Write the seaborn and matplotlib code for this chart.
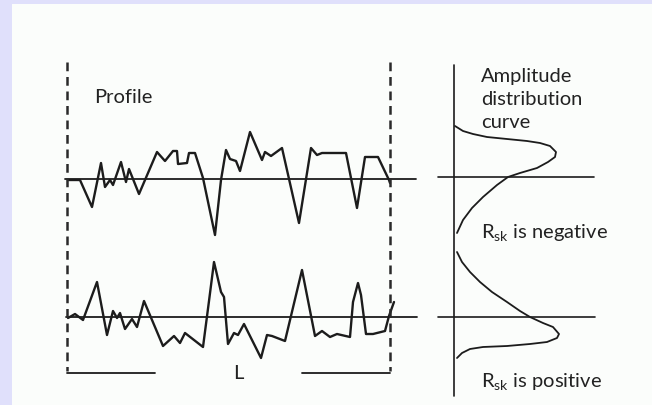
import matplotlib
matplotlib.use("Agg")
import matplotlib.pyplot as plt
import seaborn as sns
import pandas as pd

sns.set_theme(style="white")
plt.rcParams['font.family'] = ['Lato', 'DejaVu Sans']
plt.rcParams['mathtext.fontset'] = 'custom'
plt.rcParams['mathtext.rm'] = 'Lato'
plt.rcParams['mathtext.it'] = 'Lato'

# ---- data ----
# upper profile: position along L and height above its mean line
top_pos = [68, 80, 92, 101, 105, 110, 113, 121, 126, 129, 139, 157, 165, 173, 177, 178, 187, 189,
           195, 203, 215, 221, 226, 230, 236, 240, 250, 262, 265, 271, 282, 299, 311, 317, 322,
           346, 357, 365, 378, 389, 390]
top_height = [-1, -1, -28, 16, -8, -1, -6, 17, -3, 10, -15, 27, 18, 28, 28, 15, 16, 26, 26, 1,
              -56, -1, 29, 20, 18, 8, 47, 19, 27, 23, 31, -44, 31, 24, 26, 26, -29, 22, 22, -1, -4]

# lower profile
bot_pos = [68, 75, 83, 97, 107, 113, 117, 120, 125, 132, 137, 144, 163, 174, 180, 185, 203, 209,
           214, 221, 224, 228, 234, 238, 244, 261, 267, 272, 285, 302, 315, 322, 330, 337, 350,
           353, 358, 361, 366, 373, 385, 389, 394]
bot_height = [-1, 3, -3, 35, -18, 6, -1, 4, -12, -2, -10, 16, -29, -19, -26, -16, -30, 16, 55,
              25, 20, -27, -16, -18, -7, -41, -18, -19, -24, 47, -19, -14, -20, -17, -20, 15,
              34, 22, -17, -17, -14, 1, 15]

# amplitude distribution curves (density, height above mean line)
neg_density = [1, 9, 19, 33, 53, 73, 86, 96, 102, 101, 94, 83, 66, 54, 43, 29, 18, 9, 3]
neg_height = [51, 46, 43, 40, 38, 36, 34, 31, 25, 20, 15, 9, 4, 0, -8, -20, -31, -43, -56]
pos_density = [3, 8, 16, 26, 38, 53, 66, 76, 89, 99, 105, 103, 93, 76, 53, 29, 16, 8, 3]
pos_height = [65, 55, 45, 35, 25, 15, 6, 0, -6, -10, -17, -21, -25, -27, -29, -30, -32, -36, -41]

# ---- layout (pixel space) ----
W, H = 652, 405
fig = plt.figure(figsize=(W / 100, H / 100), dpi=100, facecolor='#e0e0fb')
ax = fig.add_axes([12 / W, 0, 1 - 12 / W, 1 - 4 / H])
ax.set_facecolor('#fbfdfb')
ax.set_xlim(12, W)
ax.set_ylim(H, 4)
ax.axis('off')
ax.add_patch(plt.Rectangle((12, 4), W - 12, H - 4, color='#fbfdfb', zorder=0))

ink = '#1c1c1c'
top_mean, bot_mean = 179, 317
curve_x0 = 454

df_top = pd.DataFrame({'x': top_pos, 'y': [top_mean - h for h in top_height]})
df_bot = pd.DataFrame({'x': bot_pos, 'y': [bot_mean - h for h in bot_height]})
sns.lineplot(data=df_top, x='x', y='y', sort=False, estimator=None, color=ink, lw=1.7, ax=ax)
sns.lineplot(data=df_bot, x='x', y='y', sort=False, estimator=None, color=ink, lw=1.7, ax=ax)

df_neg = pd.DataFrame({'x': [curve_x0 + d for d in neg_density],
                       'y': [177 - h for h in neg_height]})
df_pos = pd.DataFrame({'x': [curve_x0 + d for d in pos_density],
                       'y': [bot_mean - h for h in pos_height]})
sns.lineplot(data=df_neg, x='x', y='y', sort=False, estimator=None, color=ink, lw=1.3, ax=ax)
sns.lineplot(data=df_pos, x='x', y='y', sort=False, estimator=None, color=ink, lw=1.3, ax=ax)

# mean lines
ax.plot([65, 416], [top_mean, top_mean], color=ink, lw=1.3)
ax.plot([66, 417], [bot_mean, bot_mean], color=ink, lw=1.3)
ax.plot([438, 594], [177, 177], color=ink, lw=1.2)
ax.plot([438, 595], [bot_mean, bot_mean], color=ink, lw=1.2)

# sampling-length boundaries
ax.plot([67, 67], [62, 371], color='#2a2a2a', lw=1.8, ls=(0, (3.5, 2.3)))
ax.plot([390, 390], [62, 371], color='#2a2a2a', lw=1.8, ls=(0, (3.5, 2.3)))
ax.plot([67, 155], [373, 373], color=ink, lw=1.3)
ax.plot([302, 390], [373, 373], color=ink, lw=1.3)
# vertical axis of distribution
ax.plot([454, 454], [65, 396], color=ink, lw=1.2)

fs = 14.5
ax.text(94, 103, 'Profile', fontsize=fs, color='#222222', va='baseline')
ax.text(233, 379, 'L', fontsize=fs, color='#222222', va='baseline')
ax.text(481, 82, 'Amplitude', fontsize=fs, color='#222222', va='baseline')
ax.text(481, 105, 'distribution', fontsize=fs, color='#222222', va='baseline')
ax.text(481, 128, 'curve', fontsize=fs, color='#222222', va='baseline')
ax.text(481, 238, r'R$_{\mathrm{sk}}$ is negative', fontsize=fs, color='#222222', va='baseline')
ax.text(481, 387, r'R$_{\mathrm{sk}}$ is positive', fontsize=fs, color='#222222', va='baseline')

fig.savefig('out.png', dpi=100, facecolor=fig.get_facecolor())
